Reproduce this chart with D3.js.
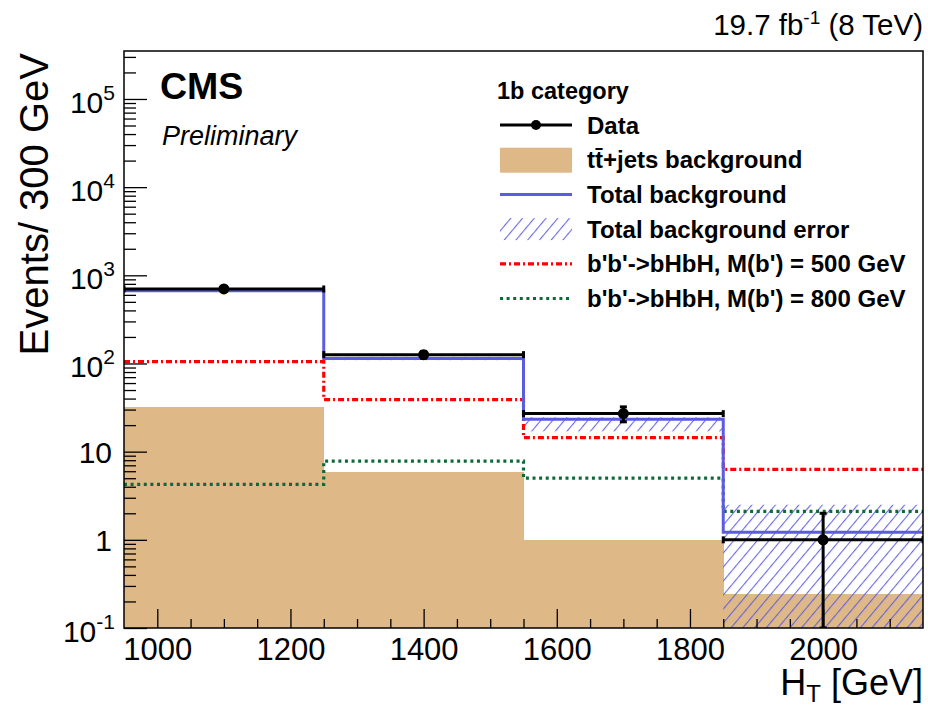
<!DOCTYPE html>
<html><head><meta charset="utf-8">
<script src="https://cdn.jsdelivr.net/npm/d3@7"></script>
<style>body{margin:0;background:#fff} text{font-family:"Liberation Sans",Arial,Helvetica,sans-serif;fill:#000}</style>
</head><body><svg id="c" width="928" height="710"></svg>
<script>
// ---- data ----
const binEdges = [950, 1250, 1550, 1850, 2150];
const dataCenters = [1100, 1400, 1700, 2000];
const dataValues = [700, 126, 27, 1];
const dataErrors = [26, 11, 5.2, 1.0];
const ttbarValues = [32.5, 5.9, 1.0, 0.245];
const totalBkg = [670, 114, 23.3, 1.22];
const bkgErrLow = [650, 109, 17, 0.01];
const bkgErrHigh = [690, 119, 24.5, 2.5];
const sig500 = [105, 39, 14.4, 6.3];
const sig800 = [4.25, 7.8, 5.0, 2.1];
const xTicks = [1000, 1200, 1400, 1600, 1800, 2000];
const yTicks = [0.1, 1, 10, 100, 1000, 1e4, 1e5];
const yTickBase = ["10", "1", "10", "10", "10", "10", "10"];
const yTickExp = ["-1", "", "", "2", "3", "4", "5"];
const legendLabels = ["Data", "tt\u0304+jets background", "Total background", "Total background error",
  "b'b'->bHbH, M(b') = 500 GeV", "b'b'->bHbH, M(b') = 800 GeV"];

// ---- layout ----
const L = 124, R = 923, T = 51, B = 628;
const svg = d3.select("#c");
const x = d3.scaleLinear().domain([950, 2150]).range([L, R]);
const y = d3.scaleLog().domain([0.1, 3.5e5]).range([B, T]);
const yc = v => y(Math.max(v, 0.1));

const tan = "#deb887", blue = "#5c5ce0", red = "#ff0000", green = "#0b6b38";

const defs = svg.append("defs");
defs.append("clipPath").attr("id", "clip").append("rect")
  .attr("x", L).attr("y", T).attr("width", R - L).attr("height", B - T);
const pat = defs.append("pattern").attr("id", "hatch").attr("patternUnits", "userSpaceOnUse")
  .attr("width", 9).attr("height", 9).attr("patternTransform", "rotate(40)");
pat.append("line").attr("x1", 0.6).attr("y1", 0).attr("x2", 0.6).attr("y2", 9)
  .attr("stroke", "#5a5ae2").attr("stroke-width", 1);

const g = svg.append("g").attr("clip-path", "url(#clip)");

// ttbar filled histogram
g.selectAll("rect.tt").data(ttbarValues).join("rect").attr("class", "tt")
  .attr("x", (d, i) => x(binEdges[i])).attr("width", (d, i) => x(binEdges[i + 1]) - x(binEdges[i]) + 0.5)
  .attr("y", d => yc(d)).attr("height", d => B - yc(d)).attr("fill", tan).attr("shape-rendering", "crispEdges");

// background error band
g.selectAll("rect.err").data(bkgErrHigh).join("rect").attr("class", "err")
  .attr("x", (d, i) => x(binEdges[i])).attr("width", (d, i) => x(binEdges[i + 1]) - x(binEdges[i]))
  .attr("y", d => yc(d)).attr("height", (d, i) => yc(bkgErrLow[i]) - yc(d)).attr("fill", "url(#hatch)");

const stepLine = d3.line().x(d => x(d[0])).y(d => yc(d[1])).curve(d3.curveStepAfter);
const stepPts = vals => vals.map((v, i) => [binEdges[i], v]).concat([[binEdges[vals.length], vals[vals.length - 1]]]);

g.append("path").datum(stepPts(sig800)).attr("d", stepLine).attr("fill", "none")
  .attr("stroke", green).attr("stroke-width", 3.2).attr("stroke-dasharray", "3,3.6");
g.append("path").datum(stepPts(sig500)).attr("d", stepLine).attr("fill", "none")
  .attr("stroke", red).attr("stroke-width", 3.2).attr("stroke-dasharray", "6,3,2,3");
g.append("path").datum(stepPts(totalBkg)).attr("d", stepLine).attr("fill", "none")
  .attr("stroke", blue).attr("stroke-width", 3);

// data
const dg = g.append("g").attr("stroke", "#000").attr("stroke-width", 3);
dataValues.forEach((v, i) => {
  const x0 = x(binEdges[i]), x1 = x(binEdges[i + 1]), xc = x(dataCenters[i]), yy = yc(v);
  dg.append("line").attr("x1", x0).attr("x2", x1).attr("y1", yy).attr("y2", yy);
  dg.append("line").attr("x1", x0).attr("x2", x0).attr("y1", yy - 3.5).attr("y2", yy + 3.5);
  dg.append("line").attr("x1", x1).attr("x2", x1).attr("y1", yy - 3.5).attr("y2", yy + 3.5);
  const yt = yc(v + dataErrors[i]), yb = yc(v - dataErrors[i]);
  dg.append("line").attr("x1", xc).attr("x2", xc).attr("y1", yt).attr("y2", yb);
  dg.append("line").attr("x1", xc - 3.5).attr("x2", xc + 3.5).attr("y1", yt).attr("y2", yt);
  dg.append("line").attr("x1", xc - 3.5).attr("x2", xc + 3.5).attr("y1", yb).attr("y2", yb);
  dg.append("circle").attr("cx", xc).attr("cy", yy).attr("r", 5.5).attr("fill", "#000").attr("stroke", "none");
});

// ---- axes ----
const xAxis = svg.append("g").attr("transform", `translate(0,${B})`)
  .call(d3.axisBottom(x).tickValues(xTicks).tickSizeInner(-19).tickSizeOuter(0).tickPadding(10).tickFormat(d3.format("d")));
xAxis.select(".domain").remove();
xAxis.selectAll(".tick line").attr("stroke", "#000").attr("stroke-width", 1.3);
xAxis.selectAll(".tick text").attr("font-size", 31).attr("font-family", "Liberation Sans, Arial, sans-serif").attr("dy", "0.71em");
const xMinor = d3.range(1050, 2150, 50).filter(v => v % 200 !== 0);
svg.append("g").attr("transform", `translate(0,${B})`)
  .call(d3.axisBottom(x).tickValues(xMinor).tickSize(-9).tickFormat(""))
  .call(s => { s.select(".domain").remove(); s.selectAll("line").attr("stroke", "#000").attr("stroke-width", 1.3); });

const yAxis = svg.append("g").attr("transform", `translate(${L},0)`)
  .call(d3.axisLeft(y).tickValues(yTicks).tickSize(-23).tickPadding(10).tickFormat(""));
yAxis.select(".domain").remove();
yAxis.selectAll(".tick line").attr("stroke", "#000").attr("stroke-width", 1.3);
yAxis.selectAll(".tick text").each(function (d, i) {
  const t = d3.select(this).attr("font-size", 30).attr("font-family", "Liberation Sans, Arial, sans-serif");
  if (yTickExp[i]) {
    t.attr("x", -9).attr("dy", "0.45em");
    t.append("tspan").text(yTickBase[i]);
    t.append("tspan").attr("font-size", 21).attr("dy", "-0.62em").text(yTickExp[i]);
  } else {
    t.attr("x", -12).attr("dy", "0.35em").text(yTickBase[i]);
  }
});
const yMinor = [];
for (let k = -1; k <= 5; k++) for (let m = 2; m <= 9; m++) { const v = m * Math.pow(10, k); if (v < 3.5e5) yMinor.push(v); }
svg.append("g").attr("transform", `translate(${L},0)`)
  .call(d3.axisLeft(y).tickValues(yMinor).tickSize(-12).tickFormat(""))
  .call(s => { s.select(".domain").remove(); s.selectAll("line").attr("stroke", "#000").attr("stroke-width", 1.3); });

// frame
svg.append("rect").attr("x", L).attr("y", T).attr("width", R - L).attr("height", B - T)
  .attr("fill", "none").attr("stroke", "#000").attr("stroke-width", 1.5);

// ---- titles ----
svg.append("text").attr("x", R).attr("y", 695).attr("text-anchor", "end").attr("font-size", 36)
  .call(t => { t.append("tspan").text("H"); t.append("tspan").attr("font-size", 24).attr("dy", 7).text("T");
               t.append("tspan").attr("dy", -7).text(" [GeV]"); });
svg.append("text").attr("transform", "translate(48,53) rotate(-90)").attr("text-anchor", "end")
  .attr("font-size", 40).text("Events/ 300 GeV");
svg.append("text").attr("x", R).attr("y", 35).attr("text-anchor", "end").attr("font-size", 29.5)
  .call(t => { t.append("tspan").text("19.7 fb"); t.append("tspan").attr("font-size", 19).attr("dy", -11).text("-1");
               t.append("tspan").attr("dy", 11).text(" (8 TeV)"); });
svg.append("text").attr("x", 160).attr("y", 99).attr("font-size", 37.5).attr("font-weight", "bold").text("CMS");
svg.append("text").attr("x", 162).attr("y", 145).attr("font-size", 27).attr("font-style", "italic").text("Preliminary");

// ---- legend ----
const lg = svg.append("g");
lg.append("text").attr("x", 497).attr("y", 99).attr("font-size", 23.5).attr("font-weight", "bold").text("1b category");
const rowY = [125, 159.7, 194.4, 229.1, 263.8, 298.5];
const sx0 = 500, sx1 = 572, tx = 587;
legendLabels.forEach((lab, i) => {
  lg.append("text").attr("x", tx).attr("y", rowY[i] + 8.5).attr("font-size", 24).attr("font-weight", "bold").text(lab);
});
lg.append("line").attr("x1", sx0).attr("x2", sx1).attr("y1", rowY[0]).attr("y2", rowY[0]).attr("stroke", "#000").attr("stroke-width", 3);
lg.append("circle").attr("cx", (sx0 + sx1) / 2).attr("cy", rowY[0]).attr("r", 5).attr("fill", "#000");
lg.append("rect").attr("x", sx0).attr("y", rowY[1] - 12).attr("width", sx1 - sx0).attr("height", 25).attr("fill", tan);
lg.append("line").attr("x1", sx0).attr("x2", sx1).attr("y1", rowY[2]).attr("y2", rowY[2]).attr("stroke", blue).attr("stroke-width", 3);
lg.append("rect").attr("x", sx0).attr("y", rowY[3] - 11).attr("width", sx1 - sx0).attr("height", 22).attr("fill", "url(#hatch)");
lg.append("line").attr("x1", sx0).attr("x2", sx1).attr("y1", rowY[4]).attr("y2", rowY[4]).attr("stroke", red).attr("stroke-width", 3.2).attr("stroke-dasharray", "6,3,2,3");
lg.append("line").attr("x1", sx0).attr("x2", sx1).attr("y1", rowY[5]).attr("y2", rowY[5]).attr("stroke", green).attr("stroke-width", 3.2).attr("stroke-dasharray", "3,3.6");
</script></body></html>
